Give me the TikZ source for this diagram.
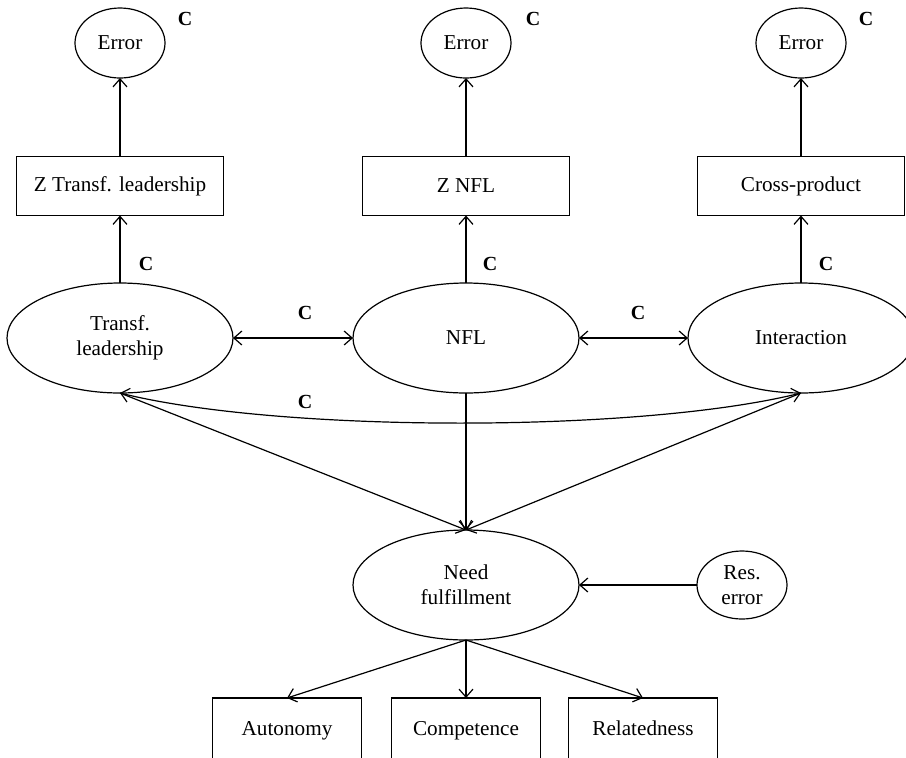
\documentclass[tikz,border=0pt]{standalone}
\usepackage{fontspec}
\setmainfont{Liberation Serif}
\usetikzlibrary{arrows.meta,shapes.geometric}
\tikzset{
  >={Straight Barb[length=4pt,width=7pt]},
  latent/.style={draw,ellipse,inner sep=0pt,outer sep=0pt,align=center,
    minimum width=113pt,minimum height=55pt},
  errnode/.style={draw,ellipse,inner sep=0pt,outer sep=0pt,align=center,
    minimum width=45pt,minimum height=35pt},
  obsbox/.style={draw,rectangle,inner sep=0pt,outer sep=0pt,
    minimum width=103.5pt,minimum height=29.5pt},
  itembox/.style={draw,rectangle,inner sep=0pt,outer sep=0pt,
    text height=1.6ex,text depth=0.4ex,
    minimum width=74.5pt,minimum height=32pt},
  clabel/.style={font=\bfseries}
}
\begin{document}
\begin{tikzpicture}[x=0.5pt,y=-0.5pt,line width=0.6pt,
    font=\fontsize{10.6pt}{12.6pt}\selectfont]
      \useasboundingbox (0,0) rectangle (906,757);
      \draw
        (120,43) node[errnode] (e1){Error}
        (466,43) node[errnode] (e2){Error}
        (801,43) node[errnode] (e3){Error}
        (120,186) node[obsbox] (ztl){Z Transf. leadership}
        (466,186) node[obsbox] (znfl){Z NFL}
        (801,186) node[obsbox] (cross){Cross-product}
        (120,338) node[latent] (tl){Transf.\\leadership}
        (466,338) node[latent] (nfl){NFL}
        (801,338) node[latent] (int){Interaction}
        (466,585) node[latent] (need){Need\\fulfillment}
        (742,585) node[errnode,minimum height=34pt] (res){Res.\\error}
        (287,730) node[itembox] (aut){Autonomy}
        (466,730) node[itembox] (comp){Competence}
        (643,730) node[itembox] (rel){Relatedness};
      \draw
        (185,19) node[clabel] (c1){C}
        (533,19) node[clabel] (c2){C}
        (866,19) node[clabel] (c3){C}
        (146,264) node[clabel] (c4){C}
        (490,264) node[clabel] (c5){C}
        (826,264) node[clabel] (c6){C}
        (305,313) node[clabel] (c7){C}
        (638,313) node[clabel] (c8){C}
        (305,402) node[clabel] (c9){C};
      \begin{scope}[->]
        \draw (ztl) to (e1);
        \draw (znfl) to (e2);
        \draw (cross) to (e3);
        \draw (tl) to (ztl);
        \draw (nfl) to (znfl);
        \draw (int) to (cross);
        \draw (tl.south) to (need.north);
        \draw (nfl) to (need);
        \draw (int.south) to (need.north);
        \draw (res) to (need);
        \draw (need.south) to (aut.north);
        \draw (need.south) to (comp.north);
        \draw (need.south) to (rel.north);
      \end{scope}
      \begin{scope}[<->]
        \draw (tl) to (nfl);
        \draw (nfl) to (int);
        \draw (tl.south) .. controls (280,433) and (640,433) .. (int.south);
      \end{scope}
    \end{tikzpicture}
\end{document}
